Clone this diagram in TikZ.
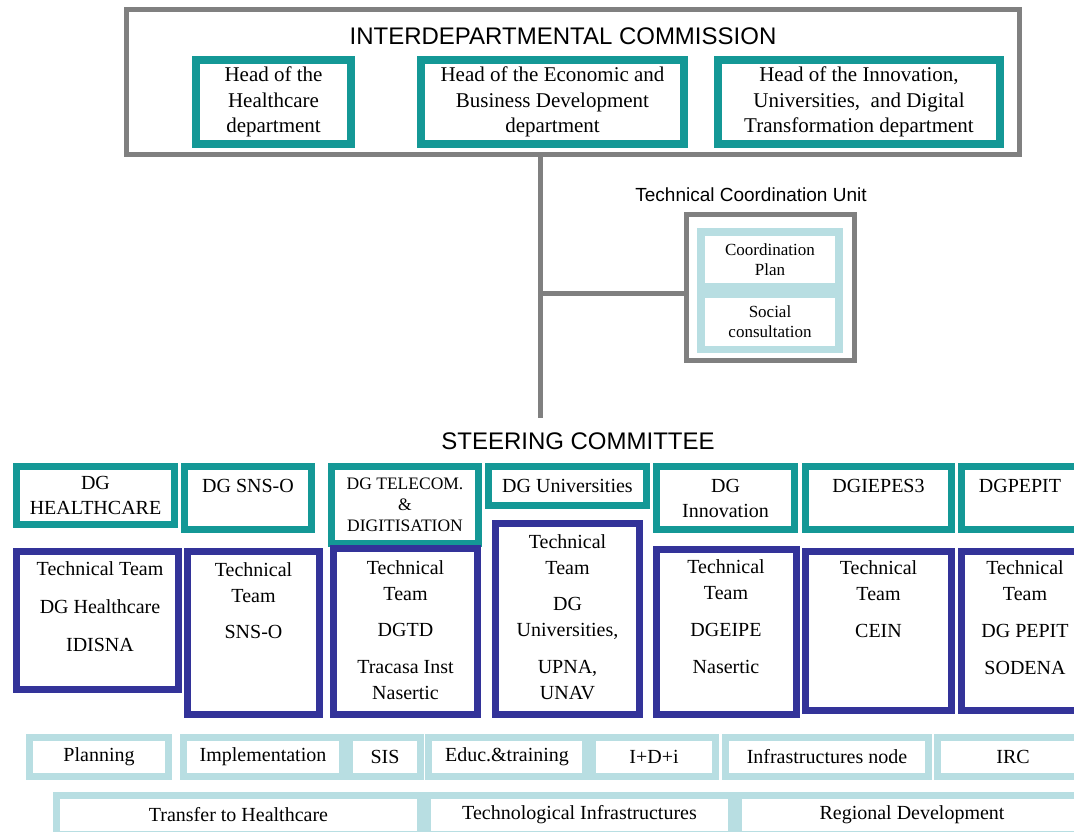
\documentclass[tikz,border=0pt]{standalone}
\usepackage{fontspec}
\setmainfont{Liberation Serif}
\setsansfont{Liberation Sans}
\usepackage{tikz}
\usetikzlibrary{positioning}

\definecolor{frameGray}{RGB}{128,128,128}
\definecolor{dgTeal}{RGB}{20,152,150}
\definecolor{teamNavy}{RGB}{51,51,153}
\definecolor{areaBlue}{RGB}{184,222,226}

\begin{document}
\begin{tikzpicture}[
    x=1pt, y=-1pt,
    every node/.style = {inner sep=0pt, outer sep=0pt, align=center},
    dims/.style 2 args = {minimum width=#1pt, minimum height=#2pt},
    heading/.style    = {font=\sffamily\fontsize{24}{28}\selectfont},
    subheading/.style = {font=\sffamily\fontsize{19}{23}\selectfont},
    panel/.style  = {draw=frameGray, line width=5pt},
    head/.style   = {draw=dgTeal, line width=8pt, font=\fontsize{21}{25.5}\selectfont},
    dg/.style     = {draw=dgTeal, line width=7pt, font=\fontsize{20}{25}\selectfont},
    team/.style   = {draw=teamNavy, line width=7pt},
    teamtext/.style = {anchor=north, font=\fontsize{20}{26}\selectfont},
    area/.style   = {draw=areaBlue, line width=7pt, font=\fontsize{20}{24}\selectfont},
    tcubox/.style = {fill=white, font=\fontsize{17}{20}\selectfont},
    link/.style   = {draw=frameGray, line width=5pt}
]
\useasboundingbox (0,0) rectangle (1074,832);

% Interdepartmental commission
\node[panel, dims={893}{145}] (comm) at (573,82) {};
\node[heading] (commtitle) at (563,36) {INTERDEPARTMENTAL COMMISSION};
\node[head, dims={155}{84}] (headhc)  at (273.5,102) {Head of the\\Healthcare\\department};
\node[head, dims={263}{84}] (headeco) at (552.5,102) {Head of the Economic and\\Business Development\\department};
\node[head, dims={282}{84}] (headinn) at (859,102) {Head of the Innovation,\\Universities,\ \ and Digital\\Transformation department};

% Technical coordination unit
\node[subheading] (tcutitle) at (751,195) {Technical Coordination Unit};
\node[panel, dims={168}{146}] (tcu) at (770.5,287.5) {};
\node[fill=areaBlue, dims={146}{125}] (tcuback) at (770,290.5) {};
\node[tcubox, dims={130}{47}] (plan)    at (770,259.5) {Coordination\\Plan};
\node[tcubox, dims={130}{48}] (consult) at (770,322) {Social\\consultation};

% Links
\coordinate (trunk)  at (540,418);
\coordinate (branch) at (540,293.5);
\draw[link] (comm.south -| trunk) -- (trunk);
\draw[link] (branch) -- (branch -| tcu.west);

% Steering committee
\node[heading] (steertitle) at (578,441) {STEERING COMMITTEE};
\node[dg, dims={158}{58}] (dghc)    at (95.5,495.5) {DG\\HEALTHCARE};
\node[dg, dims={127}{63}] (dgsns)   at (248,498) {DG SNS-O\\\mbox{}};
\node[dg, dims={147}{77}, font=\fontsize{17.5}{21}\selectfont] (dgtel) at (405,505) {DG TELECOM.\\\&\\DIGITISATION};
\node[dg, dims={158}{39}] (dguni)   at (567.5,486) {DG Universities};
\node[dg, dims={138}{63}] (dginn)   at (725.5,498) {DG\\Innovation};
\node[dg, dims={146}{63}] (dgiepes) at (878.5,498) {DGIEPES3\\\mbox{}};
\node[dg, dims={117}{63}] (dgpepit) at (1020,498) {DGPEPIT\\\mbox{}};

% Technical teams
\node[team, dims={162}{138}] (tthc)    at (97.5,620.5) {};
\node[team, dims={132}{163}] (ttsns)   at (253.5,633) {};
\node[team, dims={144}{166}] (tttel)   at (405.5,631.5) {};
\node[team, dims={144}{191}] (ttuni)   at (567.5,619) {};
\node[team, dims={140}{165}] (ttinn)   at (726,632) {};
\node[team, dims={146}{159}] (ttiepes) at (878.5,631) {};
\node[team, dims={117}{159}] (ttpepit) at (1020,631) {};

\node[teamtext] (tthctext)    at (100,562)   {Technical Team\\[12pt]DG Healthcare\\[12pt]IDISNA};
\node[teamtext] (ttsnstext)   at (253.5,563) {Technical\\Team\\[10pt]SNS-O};
\node[teamtext] (platetext)   at (405.5,561) {Technical\\Team\\[10pt]DGTD\\[11pt]Tracasa Inst\\Nasertic};
\node[teamtext] (ttunitext)   at (567.5,535) {Technical\\Team\\[10pt]DG\\Universities,\\[11pt]UPNA,\\UNAV};
\node[teamtext] (ttinntext)   at (726,560)   {Technical\\Team\\[11pt]DGEIPE\\[11pt]Nasertic};
\node[teamtext] (ttiepestext) at (878.5,561) {Technical\\Team\\[11pt]CEIN};
\node[teamtext] (ttpepittext) at (1025,561)  {Technical\\Team\\[11pt]DG PEPIT\\[11pt]SODENA};

% Areas, first row
\node[area, dims={139}{39}] (planning)  at (99,757)  {Planning};
\node[area, dims={159}{39}] (implement) at (263,757) {Implementation};
\node[area, dims={71}{39}]  (sis)       at (385,757) {SIS};
\node[area, dims={157}{39}] (educ)      at (507,757) {Educ.\&training};
\node[area, dims={123}{39}] (rdi)       at (654,757) {I+D+i};
\node[area, dims={203}{39}] (infranode) at (827,757) {Infrastructures node};
\node[area, dims={151}{39}] (irc)       at (1013,757) {IRC};

% Areas, second row
\node[area, dims={364}{39}] (transfer)  at (238.5,815) {Transfer to Healthcare};
\node[area, dims={304}{39}] (techinfra) at (579.5,815) {Technological Infrastructures};
\node[area, dims={347}{39}] (regional)  at (912,815)   {Regional Development};
\end{tikzpicture}
\end{document}
